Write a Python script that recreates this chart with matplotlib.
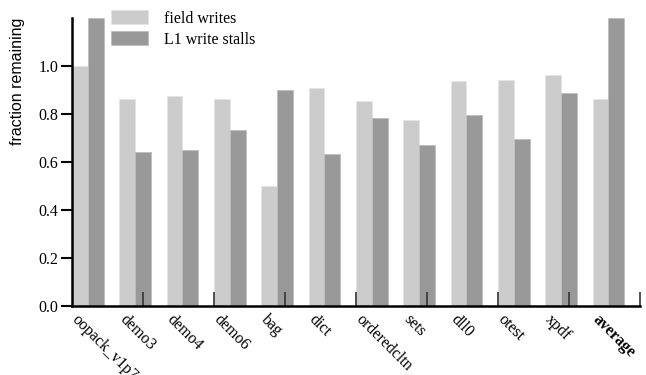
import numpy as np
import matplotlib.pyplot as plt
from matplotlib.ticker import FixedLocator

benchmarks = ["oopack_v1p7", "demo3", "demo4", "demo6", "bag", "dict",
              "orderedcltn", "sets", "dll0", "otest", "xpdf", "average"]
field_writes = [1.00, 0.862, 0.876, 0.862, 0.501, 0.907,
                0.854, 0.774, 0.937, 0.942, 0.962, 0.862]
l1_stalls = [1.20, 0.642, 0.650, 0.733, 0.900, 0.633,
             0.782, 0.670, 0.796, 0.694, 0.889, 1.20]

serif = ["Liberation Serif", "DejaVu Serif"]

fig = plt.figure(figsize=(6.46, 3.75), dpi=100)
ax = fig.add_axes([72 / 646, 1 - 306 / 375, 568 / 646, 288 / 375])

x = np.arange(len(benchmarks))
w = 1 / 3
ax.bar(x - w / 2, field_writes, w, color="#cccccc", edgecolor="#e4e4e4",
       linewidth=0.6, label="field writes")
ax.bar(x + w / 2, l1_stalls, w, color="#999999", edgecolor="#bdbdbd",
       linewidth=0.6, label="L1 write stalls")

ax.set_xlim(-w, len(benchmarks) - w)
ax.set_ylim(0, 1.2)

# y axis
ax.set_yticks([0.0, 0.2, 0.4, 0.6, 0.8, 1.0])
ax.set_yticklabels(["0.0", "0.2", "0.4", "0.6", "0.8", "1.0"], family=serif, fontsize=11.5)
ax.tick_params(axis="y", direction="out", length=8, width=1.5, pad=2)
ax.set_ylabel("fraction remaining", family=["Liberation Sans", "DejaVu Sans"],
              fontsize=11.5)
ax.yaxis.set_label_coords(-0.083, 0.78)

# x axis: tick marks every 1.5 groups, labels at each group
ax.xaxis.set_major_locator(FixedLocator(-w + 1.5 * np.arange(1, 9)))
ax.xaxis.set_major_formatter(plt.NullFormatter())
ax.tick_params(axis="x", direction="in", length=10, width=1.2, color="#333333")
for i, name in enumerate(benchmarks):
    ax.text(i - w + 0.17, -0.025, name, rotation=-45, rotation_mode="anchor",
            ha="left", va="top", family=serif, fontsize=11.5,
            fontweight="bold" if name == "average" else "normal",
            transform=ax.transData)

for s in ["top", "right"]:
    ax.spines[s].set_visible(False)
ax.spines["left"].set_linewidth(1.8)
ax.spines["bottom"].set_linewidth(1.8)

leg = ax.legend(loc="upper left", bbox_to_anchor=(0.043, 1.077), frameon=False,
                prop={"family": serif, "size": 11.5}, handlelength=2.35,
                handleheight=0.95, handletextpad=1.0, labelspacing=0.3)

fig.savefig("out.png", dpi=100)
